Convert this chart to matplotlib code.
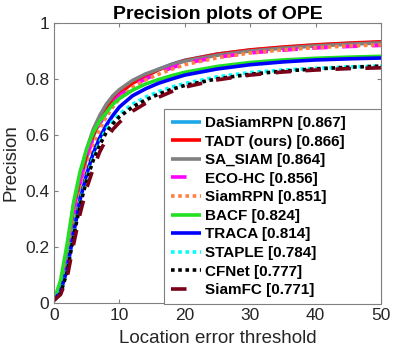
import matplotlib
matplotlib.use("Agg")
import matplotlib.pyplot as plt
from matplotlib.ticker import FormatStrFormatter

plt.rcParams['font.family'] = ['Liberation Sans', 'DejaVu Sans']

thresholds = [0, 1, 2, 3, 4, 5, 6, 7, 8, 9, 10, 12, 14, 16, 18, 20, 25, 30, 35, 40, 45, 50]

dasiamrpn = [0.01, 0.05, 0.16, 0.31, 0.43, 0.52, 0.595, 0.65, 0.69, 0.725, 0.75, 0.787, 0.813, 0.835, 0.853, 0.867, 0.889, 0.903, 0.913, 0.921, 0.927, 0.931]
tadt      = [0.01, 0.06, 0.18, 0.34, 0.44, 0.53, 0.60, 0.65, 0.69, 0.725, 0.75, 0.785, 0.81, 0.833, 0.851, 0.866, 0.889, 0.904, 0.914, 0.922, 0.928, 0.933]
sa_siam   = [0.01, 0.06, 0.19, 0.35, 0.46, 0.55, 0.62, 0.67, 0.71, 0.74, 0.762, 0.795, 0.818, 0.835, 0.851, 0.864, 0.885, 0.90, 0.91, 0.918, 0.924, 0.929]
eco_hc    = [0.01, 0.05, 0.17, 0.32, 0.43, 0.52, 0.59, 0.64, 0.68, 0.715, 0.74, 0.775, 0.80, 0.822, 0.84, 0.856, 0.878, 0.893, 0.903, 0.911, 0.916, 0.92]
siamrpn   = [0.01, 0.04, 0.13, 0.27, 0.39, 0.48, 0.56, 0.62, 0.665, 0.70, 0.73, 0.77, 0.797, 0.817, 0.835, 0.851, 0.876, 0.893, 0.904, 0.912, 0.918, 0.922]
bacf      = [0.01, 0.08, 0.21, 0.36, 0.47, 0.55, 0.61, 0.65, 0.68, 0.71, 0.73, 0.76, 0.782, 0.798, 0.812, 0.824, 0.845, 0.859, 0.868, 0.874, 0.878, 0.881]
traca     = [0.01, 0.04, 0.12, 0.25, 0.37, 0.46, 0.535, 0.59, 0.635, 0.67, 0.70, 0.74, 0.765, 0.785, 0.80, 0.814, 0.836, 0.851, 0.861, 0.868, 0.872, 0.875]
staple    = [0.01, 0.04, 0.12, 0.25, 0.36, 0.45, 0.52, 0.575, 0.62, 0.65, 0.675, 0.71, 0.735, 0.755, 0.771, 0.784, 0.808, 0.823, 0.832, 0.838, 0.843, 0.846]
cfnet     = [0.01, 0.035, 0.11, 0.24, 0.35, 0.44, 0.51, 0.565, 0.61, 0.64, 0.665, 0.70, 0.725, 0.746, 0.763, 0.777, 0.801, 0.817, 0.828, 0.836, 0.842, 0.846]
siamfc    = [0.01, 0.03, 0.09, 0.21, 0.32, 0.41, 0.48, 0.54, 0.585, 0.62, 0.645, 0.685, 0.713, 0.735, 0.755, 0.771, 0.797, 0.814, 0.825, 0.832, 0.837, 0.84]

labels = ['DaSiamRPN [0.867]', 'TADT (ours) [0.866]', 'SA_SIAM [0.864]', 'ECO-HC [0.856]',
          'SiamRPN [0.851]', 'BACF [0.824]', 'TRACA [0.814]', 'STAPLE [0.784]',
          'CFNet [0.777]', 'SiamFC [0.771]']
series = [dasiamrpn, tadt, sa_siam, eco_hc, siamrpn, bacf, traca, staple, cfnet, siamfc]
colors = ['#1ea7e8', '#ff0000', '#808080', '#ff00ff', '#ff8040', '#22e022', '#0000ff',
          '#00ffff', '#000000', '#7a0018']
styles = ['solid', 'solid', 'solid', (0, (4.3, 4.0)), (0, (1, 1)), 'solid', 'solid',
          (0, (1, 1)), (0, (1, 1)), (0, (4.3, 4.0))]

fig = plt.figure(figsize=(3.99, 3.49), dpi=100)
ax = fig.add_axes([54/399, 46/349, 327/399, 280/349])

for y, lab, c, ls in zip(series, labels, colors, styles):
    ax.plot(thresholds, y, color=c, linestyle=ls, linewidth=2.6, label=lab,
            solid_capstyle='butt', dash_capstyle='butt')

ax.set_xlim(0, 50)
ax.set_ylim(0, 1)
ax.set_xticks([0, 10, 20, 30, 40, 50])
ax.set_yticks([0, 0.2, 0.4, 0.6, 0.8, 1])
ax.yaxis.set_major_formatter(FormatStrFormatter('%g'))
ax.tick_params(direction='in', top=True, right=True, length=3, width=0.8,
               colors='#808080', labelcolor='#262626', labelsize=12.5)
for s in ax.spines.values():
    s.set_color('#808080')
    s.set_linewidth(0.8)

ax.set_xlabel('Location error threshold', fontsize=13.5, color='#262626', labelpad=5)
ax.set_ylabel('Precision', fontsize=13.5, color='#262626', labelpad=4)
ax.set_title('Precision plots of OPE', fontsize=14, fontweight='bold', pad=3)

leg_x0 = (164 - 54) / 327
leg = ax.legend(loc='lower left', bbox_to_anchor=(leg_x0, -0.004, 1.0 - leg_x0, 0.5),
                mode='expand', borderaxespad=0,
                prop={'weight': 'bold', 'size': 11}, handlelength=2.0, handletextpad=0.25,
                borderpad=0.45, labelspacing=0.3, fancybox=False, framealpha=1,
                edgecolor='#808080')
leg.get_frame().set_linewidth(0.8)

fig.savefig('out.png', dpi=100)
